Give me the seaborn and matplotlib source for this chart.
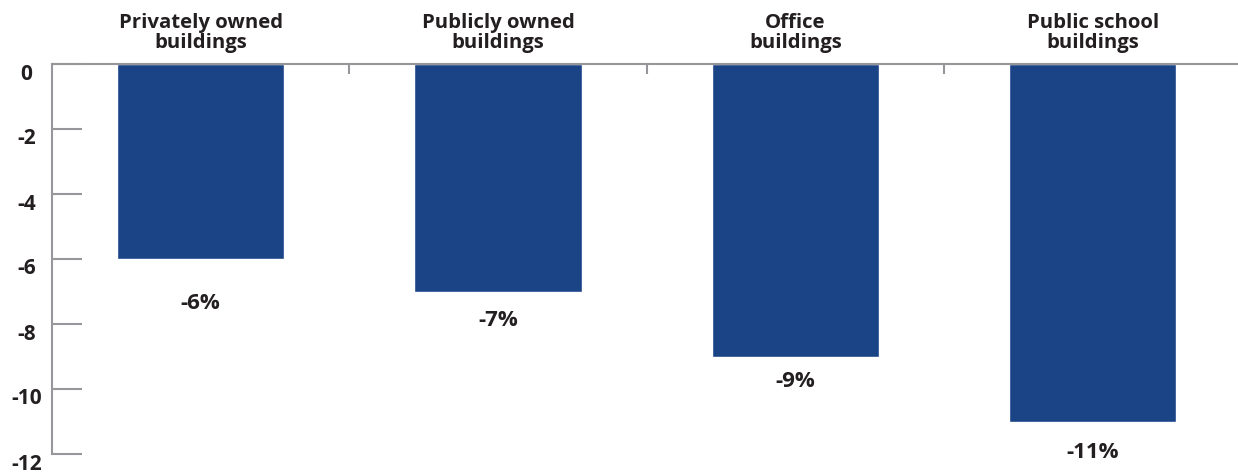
import matplotlib
matplotlib.use("Agg")
import matplotlib.pyplot as plt
import matplotlib.transforms as mtransforms
import seaborn as sns
import pandas as pd

categories = ["Privately owned\nbuildings", "Publicly owned\nbuildings",
              "Office\nbuildings", "Public school\nbuildings"]
values = [-6, -7, -9, -11]
value_labels = ["-6%", "-7%", "-9%", "-11%"]
yticks = [0, -2, -4, -6, -8, -10, -12]
# label offsets below bar end (data units)
label_offsets = [1.34, 0.89, 0.74, 0.95]

sns.set_style("white", {"ytick.left": True, "xtick.top": True})
plt.rcParams['font.family'] = ['Open Sans', 'DejaVu Sans']

BAR = "#1B4487"
GRID = "#97979B"
TXT = "#231F20"

df = pd.DataFrame({"cat": categories, "val": values})

fig = plt.figure(figsize=(12.38, 4.73), dpi=100)
ax = fig.add_axes([52 / 1238, 1 - 454.5 / 473, 1 - 52 / 1238, 390 / 473])
sns.barplot(data=df, x="cat", y="val", color=BAR, width=0.562, ax=ax,
            saturation=1, order=categories)

ax.set_xlim(-0.5, 3.489)
ax.set_ylim(-12, 0)
ax.set_xlabel("")
ax.set_ylabel("")

for s in ["bottom", "right"]:
    ax.spines[s].set_visible(False)
for s in ["top", "left"]:
    ax.spines[s].set_color(GRID)
    ax.spines[s].set_linewidth(1.5)

ax.set_yticks(yticks)
ax.set_yticklabels([str(t) for t in yticks])
ax.tick_params(axis="y", which="major", direction="in", length=21.6, width=1.5,
               color=GRID, pad=18.4, labelsize=15, labelcolor=TXT,
               left=True, right=False)
for lab in ax.get_yticklabels():
    lab.set_fontweight("bold")
    lab.set_horizontalalignment("center")
    lab.set_transform(lab.get_transform() +
                      mtransforms.ScaledTranslation(0, -0.07, fig.dpi_scale_trans))

ax.xaxis.tick_top()
ax.set_xticks([0.5, 1.5, 2.5])
ax.set_xticklabels([])
ax.tick_params(axis="x", direction="in", length=7.2, width=1.5, color=GRID, top=True, bottom=False)

trans = mtransforms.blended_transform_factory(ax.transData, ax.transAxes)
for i, c in enumerate(categories):
    ax.text(i, 1.081, c, transform=trans, ha="center", va="center",
            fontsize=14.7, fontweight="bold", color=TXT, linespacing=1.02,
            multialignment="center")

for i, (v, lab, off) in enumerate(zip(values, value_labels, label_offsets)):
    ax.text(i, v - off, lab, ha="center", va="center", fontsize=16,
            fontweight="bold", color=TXT)

fig.canvas.draw()
fig.savefig("out.png", dpi=100)
